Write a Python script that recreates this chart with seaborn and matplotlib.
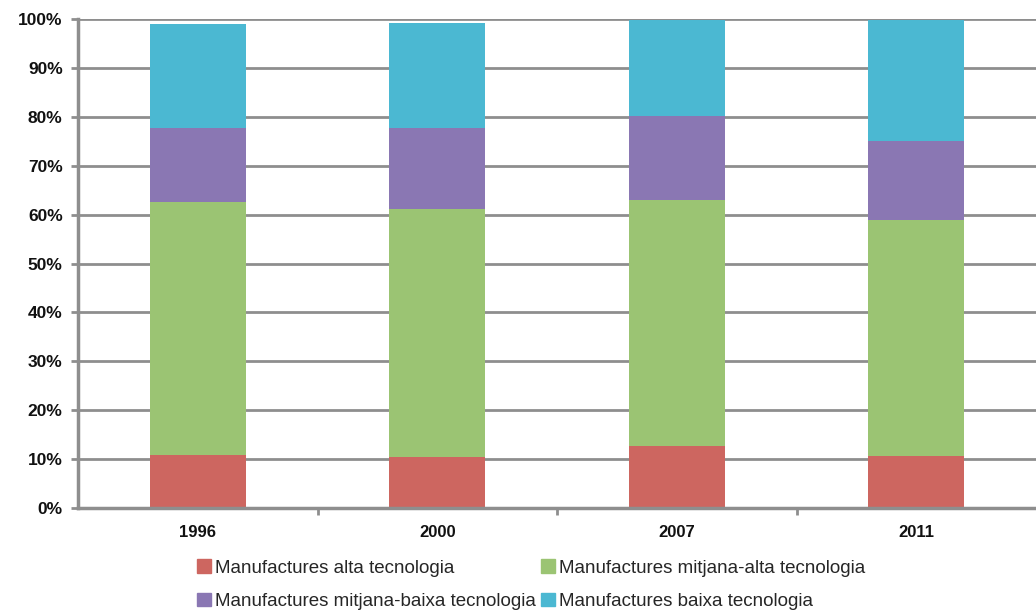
import matplotlib
matplotlib.use("Agg")
import matplotlib.pyplot as plt
import matplotlib.patches as mpatches
import seaborn as sns
import pandas as pd
import numpy as np

years = ["1996", "2000", "2007", "2011"]
series = [
    "Manufactures alta tecnologia",
    "Manufactures mitjana-alta tecnologia",
    "Manufactures mitjana-baixa tecnologia",
    "Manufactures baixa tecnologia",
]
alta = [10.8, 10.4, 12.7, 10.6]
mitjana_alta = [51.8, 50.7, 50.3, 48.3]
mitjana_baixa = [15.1, 16.6, 17.2, 16.2]
baixa = [21.3, 21.5, 19.6, 24.7]
colors = ["#CD6660", "#9BC473", "#8A77B3", "#4BB8D2"]
yticks = [0, 10, 20, 30, 40, 50, 60, 70, 80, 90, 100]

sns.set_theme(style="white")
plt.rcParams["font.family"] = ["Liberation Sans", "DejaVu Sans"]

vals = np.array([alta, mitjana_alta, mitjana_baixa, baixa])
cum = np.cumsum(vals, axis=0)

fig = plt.figure(figsize=(10.36, 6.14), dpi=100)
ax = fig.add_axes([0.0753, 0.1726, 0.9247, 0.7964])

grid_c = "#8E8E8E"
for yv in yticks[1:]:
    ax.axhline(yv, color=grid_c, lw=2, zorder=0)

for i in range(3, -1, -1):
    df = pd.DataFrame({"year": years, "value": cum[i]})
    sns.barplot(data=df, x="year", y="value", color=colors[i], width=0.4,
                saturation=1, ax=ax, zorder=2, linewidth=0)

ax.set_xlim(-0.5, 3.5)
ax.set_ylim(0, 100)
ax.set_yticks(yticks)
ax.set_yticklabels([f"{v}%" for v in yticks], fontsize=12.5, fontweight="bold", color="#111111")
ax.set_xticks(range(len(years)))
ax.set_xticklabels(years, fontsize=12, fontweight="bold", color="#111111")
ax.tick_params(axis="x", length=0, pad=12)
ax.tick_params(axis="y", length=5, width=2, color=grid_c, direction="out", pad=6, left=True)
ax.set_xticks([0.5, 1.5, 2.5], minor=True)
ax.tick_params(axis="x", which="minor", length=5, width=2, color=grid_c, direction="out", bottom=True)
ax.set_xlabel("")
ax.set_ylabel("")
for s in ["top", "right"]:
    ax.spines[s].set_visible(False)
for s in ["left", "bottom"]:
    ax.spines[s].set_color(grid_c)
    ax.spines[s].set_linewidth(2.5)

handles = [mpatches.Patch(color=c, label=l) for c, l in zip(colors, series)]
order = [0, 2, 1, 3]
fig.legend([handles[k] for k in order], [series[k] for k in order],
           loc="upper left", bbox_to_anchor=(0.19, 0.089), ncol=2, frameon=False,
           fontsize=13.5, handlelength=0.75, handleheight=0.75, handletextpad=0.2,
           columnspacing=0.3, labelspacing=0.85, borderaxespad=0, borderpad=0)

fig.savefig("out.png", dpi=100)
